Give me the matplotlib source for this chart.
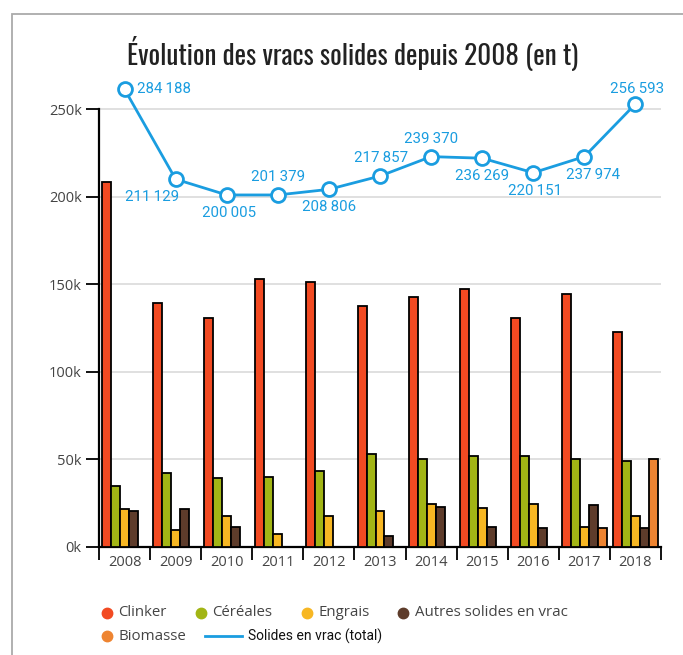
import numpy as np
import matplotlib.pyplot as plt
from matplotlib import font_manager
from matplotlib.lines import Line2D
from matplotlib.patches import Rectangle

# Data (tonnes)
years = ["2008", "2009", "2010", "2011", "2012", "2013", "2014", "2015", "2016", "2017", "2018"]
clinker = [208600, 139000, 130900, 153000, 151400, 137500, 142900, 147400, 130900, 144400, 122500]
cereales = [34900, 41900, 39400, 40000, 43300, 52800, 50100, 52000, 51800, 50000, 49200]
engrais = [21400, 9500, 17500, 7300, 17500, 20600, 24400, 21900, 24200, 11000, 17700]
autres = [20600, 21400, 11400, 0, 0, 6300, 22500, 11000, 10500, 23800, 10700]
biomasse = [0, 0, 0, 0, 0, 0, 0, 0, 0, 10700, 50100]

# total line: labels and the heights at which the points are drawn in the source
total_labels = [284188, 211129, 200005, 201379, 208806, 217857, 239370, 236269, 220151, 237974, 256593]
total_drawn = [261400, 210000, 201000, 201000, 204200, 211800, 222900, 222000, 213700, 222900, 253000]

series = [
    ("Clinker", clinker, "#f24a22"),
    ("Céréales", cereales, "#a2b515"),
    ("Engrais", engrais, "#f7b723"),
    ("Autres solides en vrac", autres, "#5e3c2b"),
    ("Biomasse", biomasse, "#ee8431"),
]
line_color = "#1a9de0"


def pick_font(candidates):
    names = {f.name for f in font_manager.fontManager.ttflist}
    found = [c for c in candidates if c in names]
    return found + ["DejaVu Sans"]


title_font = pick_font(["Oswald", "Roboto Condensed", "Liberation Sans Narrow", "DejaVu Sans Condensed"])
body_font = pick_font(["Open Sans", "Noto Sans"])
label_font = pick_font(["Roboto"])

W, H = 683, 655
fig = plt.figure(figsize=(W / 100, H / 100), dpi=100)
ax = fig.add_axes([99 / W, (H - 546.7) / H, 562 / W, 463.75 / H])

x = np.arange(len(years))
bw = 0.176
for k, (name, vals, col) in enumerate(series):
    vals = np.array(vals, dtype=float)
    keep = vals > 0
    ax.bar(x[keep] + (k - 2) * bw, vals[keep], width=bw, color=col,
           edgecolor="black", linewidth=1.3, zorder=3)

ax.plot(x, total_drawn, color=line_color, linewidth=2.0, marker="o",
        markersize=10, markerfacecolor="white", markeredgecolor=line_color,
        markeredgewidth=2.0, zorder=5, clip_on=False)

# label offsets in points (dx, dy)
offsets = [(9, 0, "left"), (-17, -13, "center"), (2, -13, "center"), (0, 13, "center"),
           (0, -13, "center"), (1, 13, "center"), (0, 13, "center"), (0, -13, "center"),
           (1, -13, "center"), (6, -13, "center"), (1, 11, "center")]
for i, v in enumerate(total_labels):
    dx, dy, ha = offsets[i]
    txt = f"{v:,}".replace(",", "\u2009")
    ax.annotate(txt, (x[i], total_drawn[i]), xytext=(dx, dy), textcoords="offset points",
                ha=ha, va="center", color=line_color, fontsize=10.8, family=label_font,
                zorder=6, annotation_clip=False)

ax.set_xlim(-0.5, len(years) - 0.5)
ax.set_ylim(0, 265000)

ax.set_yticks([0, 50000, 100000, 150000, 200000, 250000])
ax.set_yticklabels(["0k", "50k", "100k", "150k", "200k", "250k"])
ax.set_xticks(np.arange(len(years) + 1) - 0.5)
ax.set_xticklabels([])
ax.set_xticks(x, minor=True)
ax.set_xticklabels(years, minor=True)
ax.tick_params(axis="x", which="major", length=9, width=1.3, color="black", direction="out")
ax.tick_params(axis="x", which="minor", length=0, pad=6, labelsize=10.5, labelcolor="#444444")
ax.tick_params(axis="y", length=9.5, width=1.3, color="black", pad=3,
               labelsize=10.5, labelcolor="#444444")
for lab in ax.get_xticklabels(minor=True) + ax.get_yticklabels():
    lab.set_family(body_font)

ax.yaxis.grid(True, color="#dddddd", linewidth=1.3, zorder=0)
for yv in ax.get_ygridlines()[:1]:
    yv.set_visible(False)
ax.set_axisbelow(True)

for s in ["top", "right"]:
    ax.spines[s].set_visible(False)
ax.spines["left"].set_bounds(0, 250000)
ax.spines["left"].set_linewidth(1.6)
ax.spines["bottom"].set_linewidth(1.6)

fig.text(353 / W, 1 - 65 / H, "Évolution des vracs solides depuis 2008 (en t)",
         ha="center", va="baseline", fontsize=19.5, color="#222222", family=title_font)

# outer frame
fig.add_artist(Rectangle((11.5 / W, -0.05), 1.2, (H - 13.5) / H + 0.05,
                         transform=fig.transFigure, fill=False,
                         edgecolor="#aaaaaa", linewidth=1.3))

# legend, laid out by hand
def leg_circle(px, py, col, label, tx):
    fig.add_artist(Line2D([px / W], [1 - py / H], transform=fig.transFigure,
                          marker="o", markersize=7.5, color=col, linestyle="none"))
    fig.text(tx / W, 1 - py / H, label, ha="left", va="center", fontsize=10.8,
             color="#444444", family=body_font)


row1 = 613
row2 = 636
leg_circle(107, row1, series[0][2], series[0][0], 118)
leg_circle(201, row1, series[1][2], series[1][0], 212)
leg_circle(307, row1, series[2][2], series[2][0], 318)
leg_circle(403, row1, series[3][2], series[3][0], 415)
leg_circle(107, row2, series[4][2], series[4][0], 118)
fig.add_artist(Line2D([205 / W, 242 / W], [1 - row2 / H, 1 - row2 / H],
                      transform=fig.transFigure, color=line_color, linewidth=2))
fig.text(248 / W, 1 - row2 / H, "Solides en vrac (total)", ha="left", va="center",
         fontsize=10, color="#111111", family=label_font)

fig.savefig("out.png", dpi=100)
